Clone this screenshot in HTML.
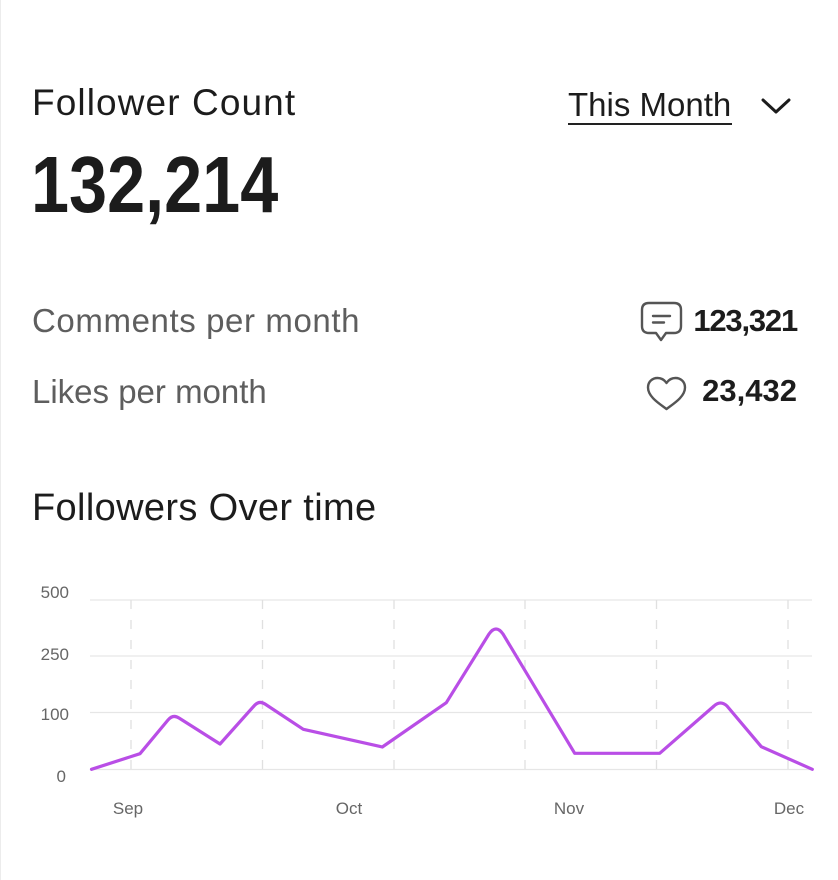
<!DOCTYPE html>
<html>
<head>
<meta charset="utf-8">
<style>
  html,body{margin:0;padding:0;background:#fff;}
  body{width:838px;height:880px;position:relative;overflow:hidden;font-family:"Liberation Sans",sans-serif;}
  .edge{position:absolute;left:0;top:0;width:1px;height:880px;background:#ececec;}
  .t{position:absolute;white-space:nowrap;line-height:1;}
</style>
</head>
<body>
<div class="edge"></div>

<div class="t" style="left:32px;top:84px;font-size:37px;color:#1c1c1c;letter-spacing:1.1px;">Follower Count</div>
<div class="t" style="left:568px;top:88px;font-size:33px;color:#1c1c1c;letter-spacing:0px;">This Month</div>
<div style="position:absolute;left:568px;top:123px;width:164px;height:2px;background:#222;"></div>
<svg style="position:absolute;left:760px;top:96px" width="34" height="20" viewBox="0 0 34 20">
  <polyline points="3,4 16,16 29,4" fill="none" stroke="#1c1c1c" stroke-width="3" stroke-linecap="round" stroke-linejoin="round"/>
</svg>

<div class="t" style="left:31px;top:145px;font-size:80px;font-weight:bold;color:#1c1c1c;transform:scaleX(0.855);transform-origin:0 0;">132,214</div>

<div class="t" style="left:32px;top:304px;font-size:33px;color:#5e5e5e;letter-spacing:0.6px;">Comments per month</div>
<div class="t" style="left:32px;top:375px;font-size:33px;color:#5e5e5e;letter-spacing:0px;">Likes per month</div>

<svg style="position:absolute;left:638px;top:300px" width="48" height="46" viewBox="0 0 48 46">
  <path d="M11,3 H36 Q43,3 43,10 V26 Q43,33 36,33 H28 L23,40 L18,33 H11 Q4,33 4,26 V10 Q4,3 11,3 Z" fill="none" stroke="#555" stroke-width="2.4" stroke-linejoin="round"/>
  <line x1="15" y1="16" x2="32" y2="16" stroke="#555" stroke-width="2.4" stroke-linecap="round"/>
  <line x1="15" y1="22.5" x2="26" y2="22.5" stroke="#555" stroke-width="2.4" stroke-linecap="round"/>
</svg>
<div class="t" style="right:41px;top:305px;font-size:31px;font-weight:bold;color:#1c1c1c;letter-spacing:-1.2px;">123,321</div>

<svg style="position:absolute;left:644px;top:374px" width="46" height="40" viewBox="0 0 46 40">
  <path d="M22.5,35 C16,30 4,23 4,13.5 C4,7.5 8.5,4 13.5,4 C17.5,4 20.5,6 22.5,9 C24.5,6 27.5,4 31.5,4 C36.5,4 41,7.5 41,13.5 C41,23 29,30 22.5,35 Z" fill="none" stroke="#555" stroke-width="2.4" stroke-linejoin="round"/>
</svg>
<div class="t" style="right:41px;top:375px;font-size:31px;font-weight:bold;color:#1c1c1c;letter-spacing:0px;">23,432</div>

<div class="t" style="left:32px;top:489px;font-size:38px;color:#1c1c1c;letter-spacing:0.35px;">Followers Over time</div>

<svg style="position:absolute;left:0;top:560px" width="838" height="280" viewBox="0 560 838 280">
  <g stroke="#e6e6e6" stroke-width="1.3">
    <line x1="90" y1="600" x2="812" y2="600"/>
    <line x1="90" y1="656" x2="812" y2="656"/>
    <line x1="90" y1="712.5" x2="812" y2="712.5"/>
    <line x1="90" y1="769.5" x2="812" y2="769.5"/>
  </g>
  <g stroke="#e0e0e0" stroke-width="1.3" stroke-dasharray="9 11">
    <line x1="131" y1="600" x2="131" y2="770"/>
    <line x1="262.5" y1="600" x2="262.5" y2="770"/>
    <line x1="394" y1="600" x2="394" y2="770"/>
    <line x1="525" y1="600" x2="525" y2="770"/>
    <line x1="656.5" y1="600" x2="656.5" y2="770"/>
    <line x1="788" y1="600" x2="788" y2="770"/>
  </g>
  <g font-family="Liberation Sans, sans-serif" font-size="17" fill="#666" text-anchor="end">
    <text x="69" y="598">500</text>
    <text x="69" y="660">250</text>
    <text x="69" y="720">100</text>
    <text x="66" y="782">0</text>
  </g>
  <g font-family="Liberation Sans, sans-serif" font-size="17" fill="#666" text-anchor="middle">
    <text x="128" y="814">Sep</text>
    <text x="349" y="814">Oct</text>
    <text x="569" y="814">Nov</text>
    <text x="789" y="814">Dec</text>
  </g>
  <path fill="none" stroke="#b94ee6" stroke-width="3.2" stroke-linejoin="round" stroke-linecap="round"
    d="M91.5,769.3 L140,753.7 L168,720 Q173,714 179,718 L220,744 L254,706 Q259,700 265,704 L303.3,729.3 L382.3,747 L446.3,702.7 L489,634 Q496,624 503,634 L574.7,753.3 L659.7,753.3 L714,706 Q720.5,700 727,706 L761.3,746.7 L812.3,769.3"/>
</svg>
</body>
</html>
